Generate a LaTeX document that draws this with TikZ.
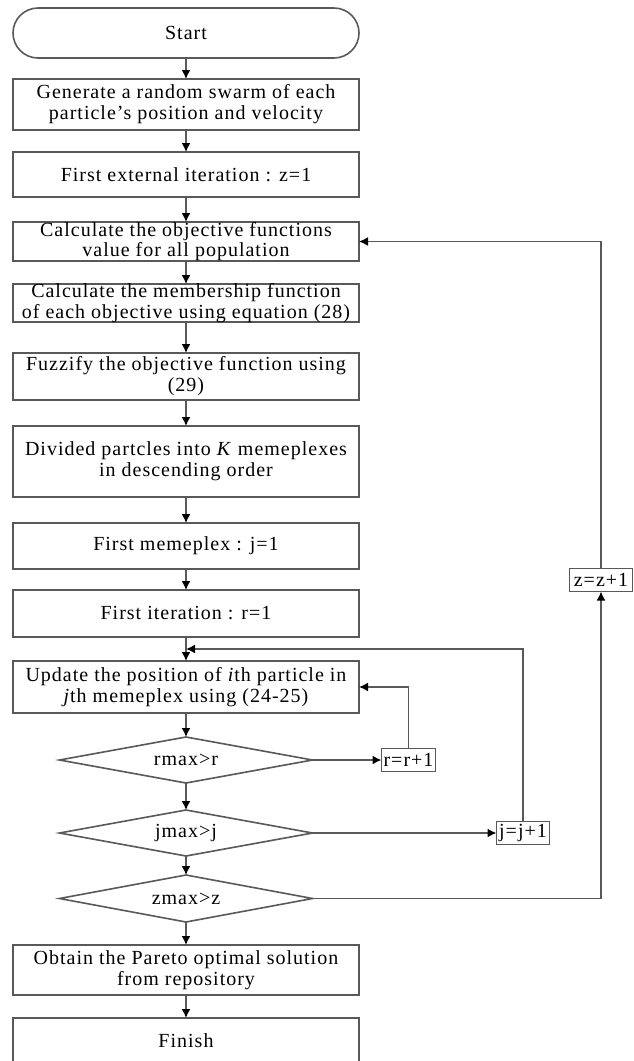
\documentclass[tikz,border=0pt]{standalone}
\usepackage{fontspec}
\setmainfont{Liberation Serif}[LetterSpace=5]
\usetikzlibrary{arrows.meta,calc,positioning,shapes.geometric}

\begin{document}
\begin{tikzpicture}[>={Latex[length=4.5pt,width=4.5pt,color=black]}, x=0.5pt, y=-0.5pt,
    line width=0.8pt, black!65,
    block/.style={draw, rectangle, text=black, minimum width=173pt, inner sep=0pt,
        outer sep=0pt, align=center, font=\fontsize{10}{10.5}\selectfont},
    tight/.style={inner ysep=-0.6pt, font=\fontsize{10}{9}\selectfont},
    terminal/.style={block, rounded corners=12.5pt, minimum height=25pt},
    decision/.style={draw, diamond, aspect=5.5, text=black, minimum width=126.5pt,
        minimum height=23pt, inner sep=0pt, outer sep=0pt, font=\fontsize{10}{10.5}\selectfont},
    counter/.style={draw, rectangle, text=black, minimum height=11.5pt, inner sep=0pt,
        outer sep=0pt, font=\fontsize{10}{10.5}\selectfont}]
    \useasboundingbox (0,0) rectangle (633,1061);

    % Nodes {s0, s1, ..., s11, d1, d2, d3}
    \node [terminal]                    (s0)  at (186,33)             {Start};
    \node [block, minimum height=25.5pt] (s1)  [below=10.5pt of s0]   {Generate a random swarm of each\\particle’s position and velocity};
    \node [block, minimum height=22.5pt] (s2)  [below=11pt of s1]     {First external iteration : z=1};
    \node [block, tight, minimum height=19.5pt] (s3) [below=12.5pt of s2] {Calculate the objective functions\\value for all population};
    \node [block, tight, minimum height=19pt]   (s4) [below=11.5pt of s3] {Calculate the membership function\\of each objective using equation (28)};
    \node [block, minimum height=23.5pt] (s5)  [below=15.5pt of s4]   {Fuzzify the objective function using\\(29)};
    \node [block, minimum height=35.5pt] (s6)  [below=13pt of s5]     {Divided partcles into \textit{K} memeplexes\\in descending order};
    \node [block, minimum height=23pt]   (s7)  [below=13pt of s6]     {First memeplex : j=1};
    \node [block, minimum height=23.5pt] (s8)  [below=10.5pt of s7]   {First iteration : r=1};
    \node [block, minimum height=26pt]   (s9)  [below=12pt of s8]     {Update the position of \textit{i}th particle in\\\textit{j}th memeplex using (24-25)};
    \node [decision]                     (d1)  [below=12pt of s9]     {rmax>r};
    \node [decision]                     (d2)  [below=13.5pt of d1]   {jmax>j};
    \node [decision, minimum height=23.5pt] (d3) [below=9.5pt of d2]  {zmax>z};
    \node [block, minimum height=25pt]   (s10) [below=11.5pt of d3]   {Obtain the Pareto optimal solution\\from repository};
    \node [block, minimum height=23pt]   (s11) [below=11.5pt of s10]  {Finish};

    % Counters
    \node [counter, minimum width=27pt]   (r1)  [right=34.5pt of d1]  {r=r+1};
    \node [counter, minimum width=26.5pt] (j1)  [right=92pt of d2]    {j=j+1};
    \node [counter, minimum width=31.5pt] (z1)  at (601,580)          {z=z+1};
    \coordinate (m1) at ($(s8.south)!0.5!(s9.north)$);

    % Paths
    \path [->]  (s0)  edge  (s1);
    \path [->]  (s1)  edge  (s2);
    \path [->]  (s2)  edge  (s3);
    \path [->]  (s3)  edge  (s4);
    \path [->]  (s4)  edge  (s5);
    \path [->]  (s5)  edge  (s6);
    \path [->]  (s6)  edge  (s7);
    \path [->]  (s7)  edge  (s8);
    \path [->]  (s8)  edge  (s9);
    \path [->]  (s9)  edge  (d1);
    \path [->]  (d1)  edge  (d2);
    \path [->]  (d2)  edge  (d3);
    \path [->]  (d3)  edge  (s10);
    \path [->]  (s10) edge  (s11);

    % Loops back
    \path [->]  (d1)  edge  (r1);
    \path [->]  (d2)  edge  (j1);
    \draw [->]  (r1.north) |- (s9.east);
    \draw [->]  (j1.north) |- (m1);
    \draw [->]  (d3.east)  -| (z1.south);
    \draw [->]  (z1.north) |- (s3.east);

\end{tikzpicture}
\end{document}
